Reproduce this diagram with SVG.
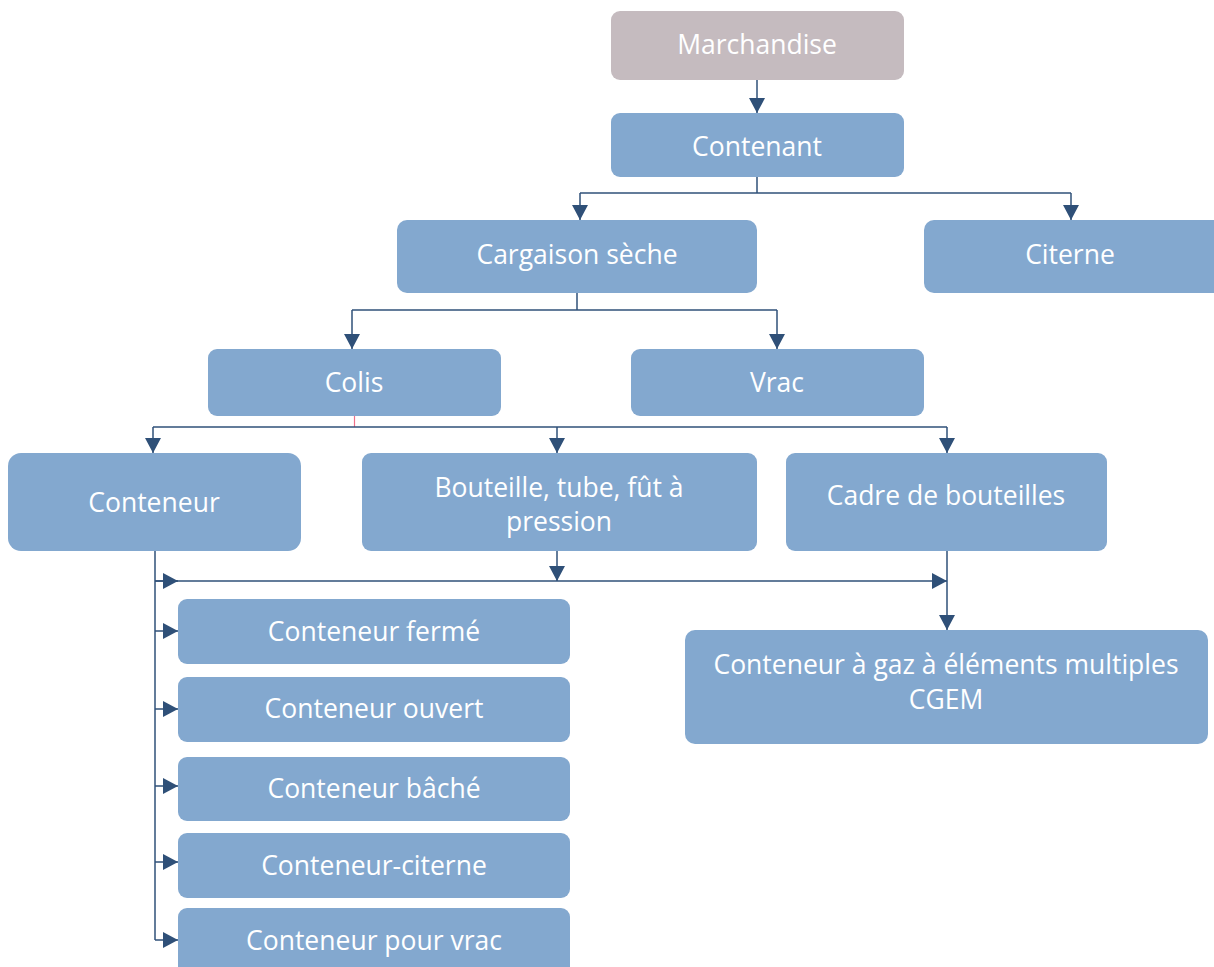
<svg xmlns="http://www.w3.org/2000/svg" width="1214" height="967" viewBox="0 0 1214 967">
<style>
.b{fill:#83a8cf}
.m{fill:#c5bbbf}
.t{font-family:"Open Sans","Noto Sans",sans-serif;font-size:26.5px;fill:#ffffff;text-anchor:middle}
.c{fill:none;stroke:#2f5078;stroke-width:1.5}
</style>
<defs>
<marker id="a" markerWidth="15" markerHeight="16" refX="15" refY="8" orient="auto" markerUnits="userSpaceOnUse">
<path d="M0,0 L15,8 L0,16 Z" fill="#2f5078"/>
</marker>
</defs>
<rect width="1214" height="967" fill="#ffffff"/>
<g id="connectors">
<path class="c" d="M757,80 V113" marker-end="url(#a)"/>
<path class="c" d="M757,177 V193"/>
<path class="c" d="M580,193 H1071"/>
<path class="c" d="M580,193 V220" marker-end="url(#a)"/>
<path class="c" d="M1071,193 V220" marker-end="url(#a)"/>
<path class="c" d="M577,293 V310"/>
<path class="c" d="M352,310 H777"/>
<path class="c" d="M352,310 V349" marker-end="url(#a)"/>
<path class="c" d="M777,310 V349" marker-end="url(#a)"/>
<path d="M354.5,416 V427" stroke="#f0708a" stroke-width="1.2" fill="none"/>
<path class="c" d="M153,427 H947"/>
<path class="c" d="M153,427 V453" marker-end="url(#a)"/>
<path class="c" d="M557,427 V453" marker-end="url(#a)"/>
<path class="c" d="M947,427 V453" marker-end="url(#a)"/>
<path class="c" d="M155,551 V940"/>
<path class="c" d="M155,581 H178" marker-end="url(#a)"/>
<path class="c" d="M155,581 H947" marker-end="url(#a)"/>
<path class="c" d="M557,551 V581" marker-end="url(#a)"/>
<path class="c" d="M947,551 V630" marker-end="url(#a)"/>
<path class="c" d="M155,631 H178" marker-end="url(#a)"/>
<path class="c" d="M155,709 H178" marker-end="url(#a)"/>
<path class="c" d="M155,786 H178" marker-end="url(#a)"/>
<path class="c" d="M155,862 H178" marker-end="url(#a)"/>
<path class="c" d="M155,940 H178" marker-end="url(#a)"/>
</g>
<g id="marchandise"><rect class="m" x="611" y="11" width="293" height="69" rx="9"/><text class="t" x="757" y="54">Marchandise</text></g>
<g id="contenant"><rect class="b" x="611" y="113" width="293" height="64" rx="9"/><text class="t" x="757" y="156">Contenant</text></g>
<g id="cargaison"><rect class="b" x="397" y="220" width="360" height="73" rx="10"/><text class="t" x="577" y="264">Cargaison sèche</text></g>
<g id="citerne"><rect class="b" x="924" y="220" width="300" height="73" rx="10"/><text class="t" x="1070" y="264">Citerne</text></g>
<g id="colis"><rect class="b" x="208" y="349" width="293" height="67" rx="9"/><text class="t" x="354" y="392">Colis</text></g>
<g id="vrac"><rect class="b" x="631" y="349" width="293" height="67" rx="9"/><text class="t" x="777" y="392">Vrac</text></g>
<g id="conteneur"><rect class="b" x="8" y="453" width="293" height="98" rx="13"/><text class="t" x="154" y="512">Conteneur</text></g>
<g id="bouteille"><rect class="b" x="362" y="453" width="395" height="98" rx="9"/><text class="t" x="559" y="497">Bouteille, tube, fût à</text><text class="t" x="559" y="531">pression</text></g>
<g id="cadre"><rect class="b" x="786" y="453" width="321" height="98" rx="9"/><text class="t" x="946" y="505">Cadre de bouteilles</text></g>
<g id="cgem"><rect class="b" x="685" y="630" width="523" height="114" rx="10"/><text class="t" x="946" y="674">Conteneur à gaz à éléments multiples</text><text class="t" x="946" y="709">CGEM</text></g>
<g id="ferme"><rect class="b" x="178" y="599" width="392" height="65" rx="9"/><text class="t" x="374" y="641">Conteneur fermé</text></g>
<g id="ouvert"><rect class="b" x="178" y="677" width="392" height="65" rx="9"/><text class="t" x="374" y="718">Conteneur ouvert</text></g>
<g id="bache"><rect class="b" x="178" y="757" width="392" height="64" rx="9"/><text class="t" x="374" y="798">Conteneur bâché</text></g>
<g id="citerne2"><rect class="b" x="178" y="833" width="392" height="65" rx="9"/><text class="t" x="374" y="875">Conteneur-citerne</text></g>
<g id="vrac2"><rect class="b" x="178" y="908" width="392" height="70" rx="9"/><text class="t" x="374" y="950">Conteneur pour vrac</text></g>
</svg>
